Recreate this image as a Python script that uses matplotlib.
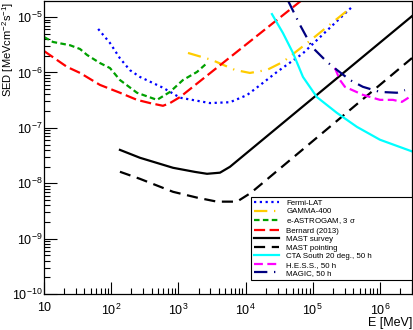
import matplotlib
matplotlib.use("Agg")
import matplotlib.pyplot as plt
from matplotlib.ticker import LogLocator, NullFormatter, FixedLocator, FixedFormatter

plt.rcParams["font.family"] = ["Liberation Sans", "DejaVu Sans"]
plt.rcParams["mathtext.default"] = "regular"

# Sensitivity curves, E [MeV] vs SED [MeV cm^-2 s^-1]
fermi_e = [64, 96, 135, 190, 268, 590, 1060, 2950, 5860, 1.05e4, 1.82e4, 2.93e4, 7.1e4, 4.0e5]
fermi_s = [6.1e-6, 3.4e-6, 1.8e-6, 1.1e-6, 8.3e-7, 5.3e-7, 3.5e-7, 2.8e-7, 2.9e-7, 3.9e-7, 6.5e-7, 1.02e-6, 2.2e-6, 1.6e-5]

gamma400_e = [1390, 3160, 6950, 1.16e4, 2.08e4, 3.6e4, 8.5e4, 3.34e5]
gamma400_s = [2.25e-6, 1.68e-6, 1.11e-6, 9.8e-7, 1.11e-6, 1.55e-6, 3.5e-6, 1.34e-5]

eastro_e = [10, 13.6, 24.4, 34.4, 43.7, 68, 96, 135, 242, 481, 750, 1170, 1890, 2670]
eastro_s = [4.36e-6, 3.55e-6, 3.1e-6, 2.65e-6, 2.07e-6, 1.48e-6, 1.2e-6, 7.3e-7, 4.3e-7, 3.2e-7, 4.45e-7, 7.3e-7, 1.02e-6, 1.48e-6]

bernard_e = [10, 22, 34.4, 68, 135, 242, 378, 590, 750, 1060, 1.0e5]
bernard_s = [2.44e-6, 1.26e-6, 9.8e-7, 5.96e-7, 4.3e-7, 3.2e-7, 2.8e-7, 2.5e-7, 2.8e-7, 3.6e-7, 2.9e-5]

mast_survey_e = [135, 268, 832, 1770, 2670, 4160, 5860, 3.0e6]
mast_survey_s = [4.0e-8, 2.88e-8, 1.9e-8, 1.6e-8, 1.48e-8, 1.55e-8, 1.98e-8, 1.04e-5]

mast_point_e = [135, 268, 832, 1890, 3750, 7450, 1.2e4, 3.0e6]
mast_point_s = [1.61e-8, 1.2e-8, 7.0e-9, 5.5e-9, 4.65e-9, 4.65e-9, 6.7e-9, 1.82e-6]

cta_e = [2.47e4, 3.6e4, 5.08e4, 7.15e4, 1.15e5, 2.29e5, 4.55e5, 1.0e6, 3.1e6]
cta_s = [1.13e-5, 5.15e-6, 2.25e-6, 8.3e-7, 3.6e-7, 1.86e-7, 1.04e-7, 6.1e-8, 3.7e-8]

hess_e = [2.14e5, 2.54e5, 3.01e5, 3.83e5, 5.58e5, 1.0e6, 1.56e6, 2.12e6, 3.1e6]
hess_s = [1.2e-6, 7.3e-7, 5.5e-7, 4.84e-7, 3.94e-7, 3.2e-7, 3.2e-7, 2.94e-7, 3.94e-7]

magic_e = [4.27e4, 6.46e4, 9.7e4, 1.63e5, 2.29e5, 3.58e5, 5.58e5, 1.0e6, 1.79e6, 2.36e6]
magic_s = [2.0e-5, 7.2e-6, 2.9e-6, 1.55e-6, 1.11e-6, 7.3e-7, 5.5e-7, 4.45e-7, 4.3e-7, 4.8e-7]

x_ticks = [10, 1e2, 1e3, 1e4, 1e5, 1e6]
x_tick_labels = ["10", "$10^{2}$", "$10^{3}$", "$10^{4}$", "$10^{5}$", "$10^{6}$"]
y_ticks = [1e-10, 1e-9, 1e-8, 1e-7, 1e-6, 1e-5]
y_tick_labels = ["$10^{-10}$", "$10^{-9}$", "$10^{-8}$", "$10^{-7}$", "$10^{-6}$", "$10^{-5}$"]

curves = [
  (fermi_e, fermi_s, "Fermi-LAT", "#0000ff", (0, (1, 1.6))),
  (gamma400_e, gamma400_s, "GAMMA-400", "#ffcc00", (0, (6, 3, 0.6, 3))),
  (eastro_e, eastro_s, r"e-ASTROGAM, 3 $\sigma$", "#00a000", (0, (2.5, 1.5))),
  (bernard_e, bernard_s, "Bernard (2013)", "#ff0000", (0, (5, 2))),
  (mast_survey_e, mast_survey_s, "MAST survey", "#000000", "-"),
  (mast_point_e, mast_point_s, "MAST pointing", "#000000", (0, (5, 3))),
  (cta_e, cta_s, "CTA South 20 deg., 50 h", "#00ffff", "-"),
  (hess_e, hess_s, "H.E.S.S., 50 h", "#ff00ff", (0, (4, 2))),
  (magic_e, magic_s, "MAGIC, 50 h", "#000080", (0, (6, 3, 0.6, 3))),
]

fig = plt.figure(figsize=(4.14, 3.30), dpi=100)
ax = fig.add_axes([44 / 414, 36 / 330, 368 / 414, 293 / 330])

for e, s, label, color, ls in curves:
  ax.plot(e, s, color=color, linestyle=ls, linewidth=1.6, label=label)

ax.set_xscale("log")
ax.set_yscale("log")
ax.set_xlim(10, 3.0e6)
ax.set_ylim(1e-10, 1.95e-5)

ax.xaxis.set_major_locator(FixedLocator(x_ticks))
ax.xaxis.set_major_formatter(FixedFormatter(x_tick_labels))
ax.yaxis.set_major_locator(FixedLocator(y_ticks))
ax.yaxis.set_major_formatter(FixedFormatter(y_tick_labels))
for axis in (ax.xaxis, ax.yaxis):
  axis.set_minor_locator(LogLocator(base=10, subs=range(2, 10), numticks=20))
  axis.set_minor_formatter(NullFormatter())

ax.tick_params(which="both", direction="in", top=False, right=False, labelsize=9, width=0.8)
ax.tick_params(which="major", length=9)
ax.tick_params(which="minor", length=4.5)
ax.tick_params(axis="x", pad=6)
ax.tick_params(axis="y", pad=1)
for sp in ax.spines.values():
  sp.set_linewidth(0.9)

# ROOT-style axis titles pinned to the axis ends
fig.text(0.5 / 414, 1 - 2 / 330, "SED [MeVcm$^{-2}$s$^{-1}$]", fontsize=8, rotation=90,
         ha="left", va="top")
fig.text(412 / 414, 7 / 330, "E [MeV]", fontsize=9, ha="right", va="center")

leg = ax.legend(loc="lower left", bbox_to_anchor=(0.5625, 0.048, 0.4375, 0.297), mode="expand",
                fontsize=5.7, frameon=True, fancybox=False, edgecolor="black", framealpha=1,
                borderpad=0.35, labelspacing=0.12, handlelength=3.2, handletextpad=0.9,
                borderaxespad=0)
leg.get_frame().set_linewidth(0.8)

fig.savefig("out.png", dpi=100)
